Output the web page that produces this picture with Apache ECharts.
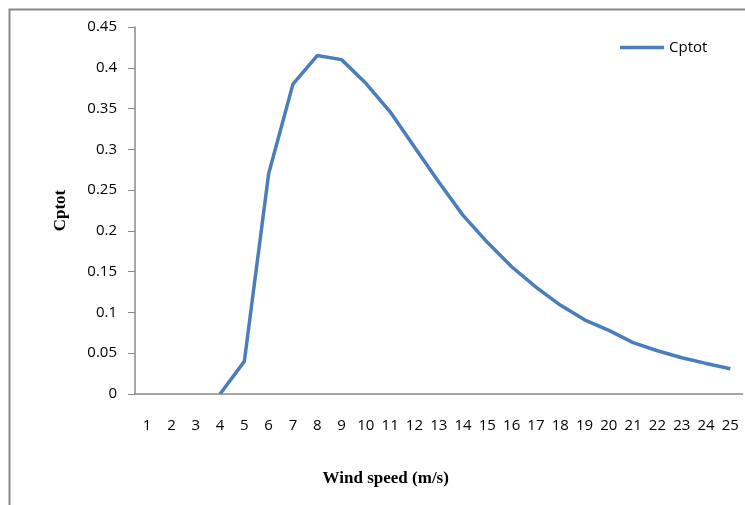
<!DOCTYPE html>
<html>
<head>
<meta charset="utf-8">
<script src="https://cdn.jsdelivr.net/npm/echarts@6/dist/echarts.min.js"></script>
<style>
  html, body { margin: 0; padding: 0; background: #fff; }
  #chart { width: 745px; height: 505px; }
</style>
</head>
<body>
<div id="chart"></div>
<script>
// Wind speed categories (m/s)
const windSpeeds = ['1','2','3','4','5','6','7','8','9','10','11','12','13','14','15','16','17','18','19','20','21','22','23','24','25'];
// Total power coefficient; no value below cut-in speed
const cptot = [null, null, null, 0, 0.04, 0.27, 0.38, 0.415, 0.41, 0.381, 0.346, 0.303, 0.26, 0.219, 0.186,
               0.156, 0.131, 0.109, 0.091, 0.078, 0.063, 0.053, 0.0445, 0.0375, 0.031];
const yTicks = { min: 0, max: 0.45, step: 0.05 };

const chart = echarts.init(document.getElementById('chart'));
const axisGray = '#898989';
const labelFont = '"Open Sans", "Liberation Sans", sans-serif';
const nameFont = '"Liberation Serif", "DejaVu Serif", serif';

chart.setOption({
  animation: false,
  backgroundColor: '#ffffff',
  graphic: [{
    type: 'rect',
    shape: { x: 9.5, y: 9.5, width: 800, height: 600 },
    style: { fill: 'none', stroke: '#878787', lineWidth: 2 },
    silent: true
  }],
  grid: { left: 135, top: 27, right: 2.5, bottom: 111, containLabel: false },
  legend: {
    data: ['Cptot'],
    left: 620, top: 40,
    padding: 0,
    icon: 'rect',
    itemWidth: 44, itemHeight: 3.5,
    textStyle: { fontFamily: labelFont, fontSize: 15, color: '#000' }
  },
  xAxis: {
    type: 'category',
    data: windSpeeds,
    boundaryGap: true,
    axisLine: { lineStyle: { color: axisGray, width: 1.5 } },
    axisTick: { show: false },
    axisLabel: { margin: 24, fontFamily: labelFont, fontSize: 15, color: '#000', interval: 0 },
    name: 'Wind speed (m/s)',
    nameLocation: 'middle',
    nameGap: 76,
    nameTextStyle: { fontFamily: nameFont, fontWeight: 'bold', fontSize: 17, color: '#000', padding: [0, 106, 0, 0] }
  },
  yAxis: {
    type: 'value',
    min: yTicks.min, max: yTicks.max, interval: yTicks.step,
    axisLine: { show: true, lineStyle: { color: axisGray, width: 1.5 } },
    axisTick: { show: true, inside: false, length: 7, lineStyle: { color: axisGray } },
    splitLine: { show: false },
    axisLabel: { margin: 18, fontFamily: labelFont, fontSize: 15, color: '#000' },
    name: 'Cptot',
    nameLocation: 'middle',
    nameGap: 66,
    nameRotate: 90,
    nameTextStyle: { fontFamily: nameFont, fontWeight: 'bold', fontSize: 17, color: '#000' }
  },
  series: [{
    name: 'Cptot',
    type: 'line',
    data: cptot,
    symbol: 'none',
    connectNulls: false,
    lineStyle: { color: '#4a7ebb', width: 3.5 },
    itemStyle: { color: '#4a7ebb' }
  }]
});
</script>
</body>
</html>
